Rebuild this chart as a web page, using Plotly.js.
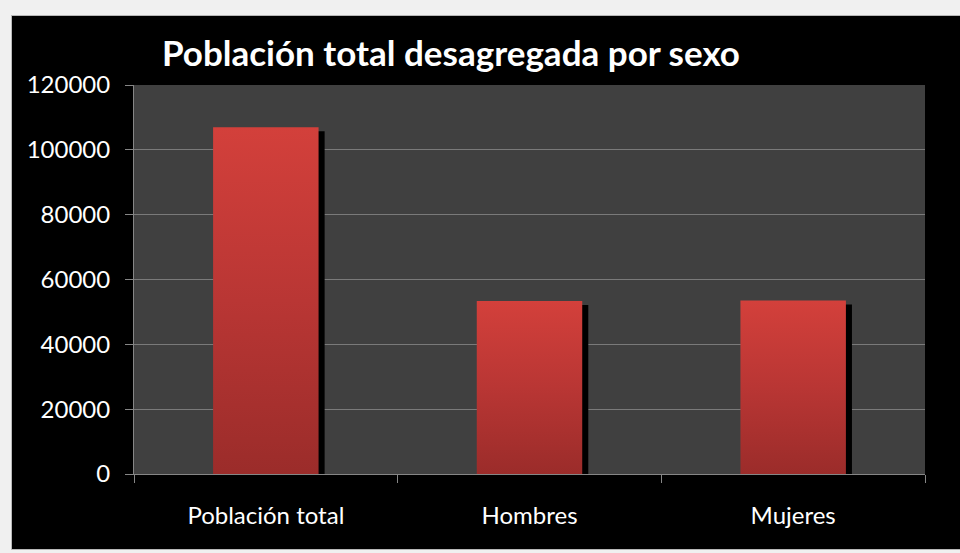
<!DOCTYPE html>
<html>
<head>
<meta charset="utf-8">
<script src="https://cdn.plot.ly/plotly-3.0.1.min.js"></script>
<style>
  html, body { margin: 0; padding: 0; background: #f0f0f0; width: 960px; height: 553px; overflow: hidden; }
  #frame { position: absolute; left: 11px; top: 15px; width: 949px; height: 533px; background: #000; border-left: 1px solid #b8b8b8; border-top: 1px solid #b8b8b8; border-bottom: 1px solid #b8b8b8; }
  #chart { position: absolute; left: 1px; top: 0px; width: 948px; height: 532px; }
</style>
</head>
<body>
<div id="frame"><div id="chart"></div></div>
<script>
const categories = ["Población total", "Hombres", "Mujeres"];
const values = [107000, 53400, 53500];
const yTicks = [0, 20000, 40000, 60000, 80000, 100000, 120000];
const chartTitle = "Población total desagregada por sexo";

const barWidth = 0.4;
const shadowDx = 0.023;
const shadowDy = 1250;

const traces = [];
// shadows
values.forEach((v, i) => {
  const x0 = i - barWidth / 2 + shadowDx, x1 = i + barWidth / 2 + shadowDx;
  traces.push({
    type: 'scatter', mode: 'lines',
    x: [x0, x1, x1, x0, x0], y: [0, 0, v - shadowDy, v - shadowDy, 0],
    fill: 'toself', fillcolor: '#000000', line: {width: 0, color: 'rgba(0,0,0,0)'},
    hoverinfo: 'skip', showlegend: false
  });
});
// bars with vertical gradient
values.forEach((v, i) => {
  const x0 = i - barWidth / 2, x1 = i + barWidth / 2;
  traces.push({
    type: 'scatter', mode: 'lines', name: categories[i],
    x: [x0, x1, x1, x0, x0], y: [0, 0, v, v, 0],
    fill: 'toself',
    fillgradient: {type: 'vertical', colorscale: [[0, '#9b2c2a'], [0.5, '#b93634'], [1, '#d3403b']]},
    line: {width: 0, color: 'rgba(0,0,0,0)'},
    hoverinfo: 'skip', showlegend: false
  });
});

const layout = {
  width: 948, height: 532,
  paper_bgcolor: '#000000', plot_bgcolor: '#404040',
  margin: {l: 121, r: 36, t: 69, b: 74},
  showlegend: false,
  font: {family: 'Lato, "Open Sans", sans-serif', color: '#ffffff', size: 24},
  title: {
    text: '<b>' + chartTitle + '</b>',
    font: {family: 'Lato, "Open Sans", sans-serif', size: 35, color: '#ffffff'},
    x: 0.462, xref: 'container', xanchor: 'center',
    y: 1 - 38 / 532, yref: 'container', yanchor: 'middle'
  },
  xaxis: {
    range: [-0.5, 2.5], fixedrange: true,
    tickmode: 'array', tickvals: [0, 1, 2], ticktext: categories,
    ticks: '', showgrid: false, zeroline: false,
    showline: true, linecolor: '#868686', linewidth: 1,
    tickfont: {size: 24, color: '#ffffff'},
    ticklabelstandoff: 20,
    minor: {tickmode: 'array', tickvals: [-0.5, 0.5, 1.5, 2.5], ticks: 'outside', ticklen: 8, tickcolor: '#868686', tickwidth: 1, showgrid: false}
  },
  yaxis: {
    range: [0, 120000], fixedrange: true,
    tickmode: 'array', tickvals: yTicks, ticktext: yTicks.map(String),
    ticks: 'outside', ticklen: 8, tickcolor: '#868686', tickwidth: 1,
    showgrid: true, gridcolor: '#7a7a7a', gridwidth: 1,
    zeroline: false, showline: true, linecolor: '#868686', linewidth: 1,
    tickfont: {size: 24, color: '#ffffff'},
    ticklabelstandoff: 10
  }
};

Plotly.newPlot('chart', traces, layout, {displayModeBar: false, staticPlot: true});
</script>
</body>
</html>
